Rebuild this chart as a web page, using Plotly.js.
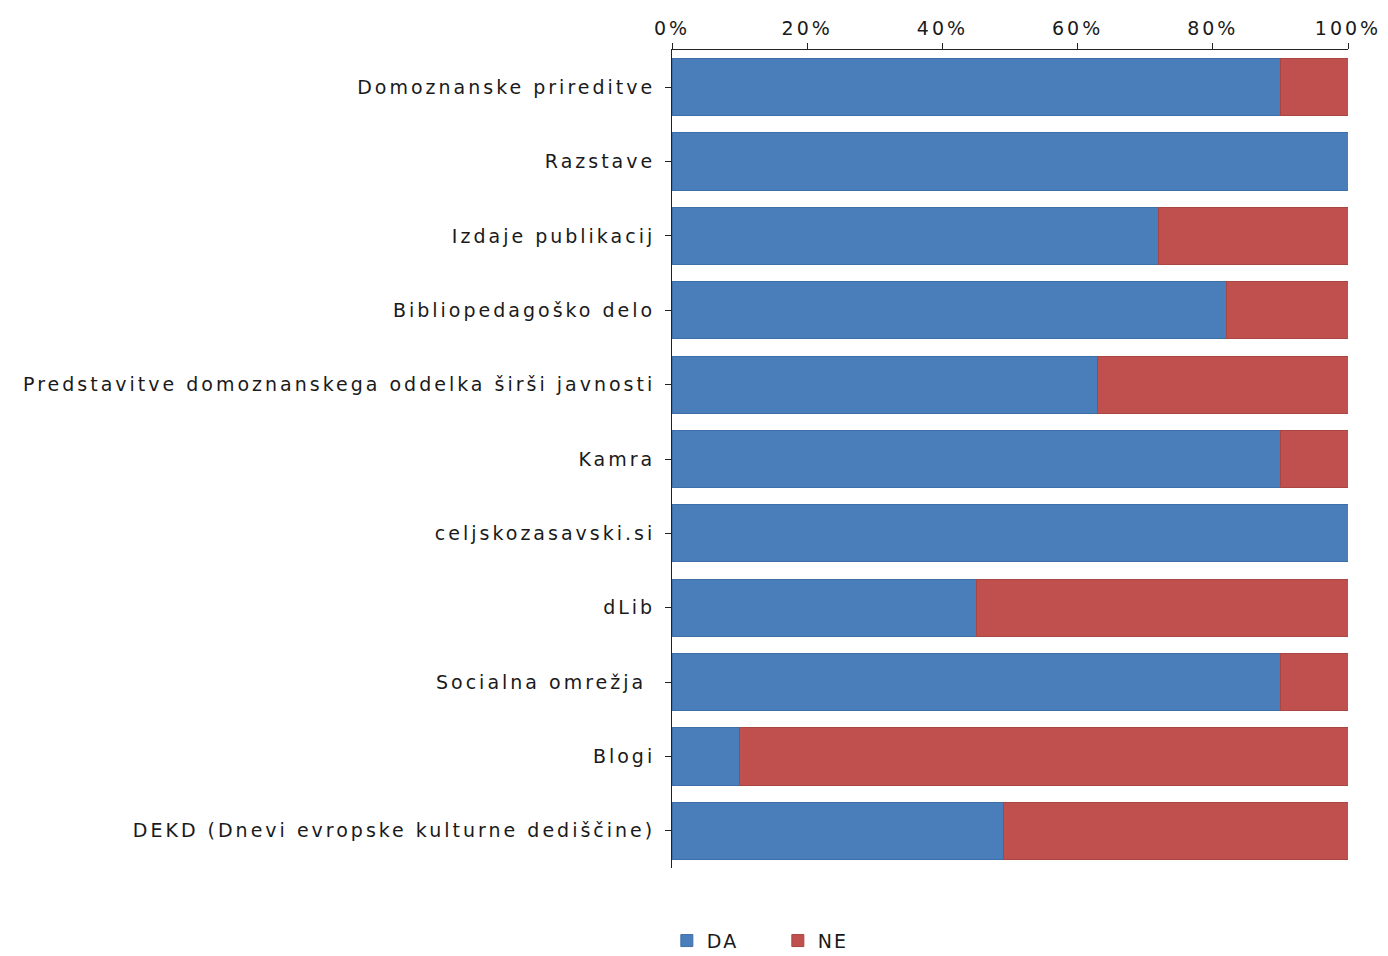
<!DOCTYPE html>
<html>
<head>
<meta charset="utf-8">
<script src="https://cdn.plot.ly/plotly-3.0.1.min.js"></script>
<style>
html,body{margin:0;padding:0;background:#fff;}
#chart{width:1388px;height:956px;}
g.ytick text{letter-spacing:3px;}
g.xtick text{letter-spacing:3px;}
text.legendtext{letter-spacing:2px;}
</style>
</head>
<body>
<div id="chart"></div>
<script>
var categories = [
  "Domoznanske prireditve",
  "Razstave",
  "Izdaje publikacij",
  "Bibliopedagoško delo",
  "Predstavitve domoznanskega oddelka širši javnosti",
  "Kamra",
  "celjskozasavski.si",
  "dLib",
  "Socialna omrežja ",
  "Blogi",
  "DEKD (Dnevi evropske kulturne dediščine)"
];
var daValues = [90, 100, 72, 82, 63, 90, 100, 45, 90, 10, 49];
var neValues = [10, 0, 28, 18, 37, 10, 0, 55, 10, 90, 51];
var tickVals = [0, 20, 40, 60, 80, 100];
var tickLabels = ["0%", "20%", "40%", "60%", "80%", "100%"];

var font = {family: "DejaVu Sans, sans-serif", size: 19, color: "#1a1a1a"};

var traces = [
  {type: "bar", orientation: "h", name: "DA", y: categories, x: daValues,
   marker: {color: "#4a7ebb", line: {color: "#3f6fa8", width: 1}}},
  {type: "bar", orientation: "h", name: "NE", y: categories, x: neValues,
   marker: {color: "#c0504d", line: {color: "#a94542", width: 1}}}
];

var layout = {
  width: 1388, height: 956,
  paper_bgcolor: "#fff", plot_bgcolor: "#fff",
  barmode: "stack", bargap: 0.23,
  margin: {l: 672, r: 40, t: 50, b: 88, autoexpand: false},
  font: font,
  showlegend: true,
  legend: {orientation: "h", traceorder: "normal", xref: "container", x: 0.5604, xanchor: "center",
    yref: "container", y: 0.016, yanchor: "middle",
    font: font, entrywidth: 66, entrywidthmode: "pixels"},
  xaxis: {side: "top", range: [0, 100], tickvals: tickVals, ticktext: tickLabels,
    showgrid: false, zeroline: false, showline: true, linecolor: "#222", linewidth: 1,
    ticks: "outside", ticklen: 6, tickcolor: "#222", tickfont: font, fixedrange: true, automargin: false},
  yaxis: {autorange: "reversed", showgrid: false, zeroline: false, showline: true,
    linecolor: "#222", linewidth: 1, ticks: "outside", ticklen: 6, tickcolor: "#222",
    tickfont: font, ticklabelstandoff: 6, automargin: false}
};

Plotly.newPlot("chart", traces, layout, {displayModeBar: false, staticPlot: true});
</script>
</body>
</html>
